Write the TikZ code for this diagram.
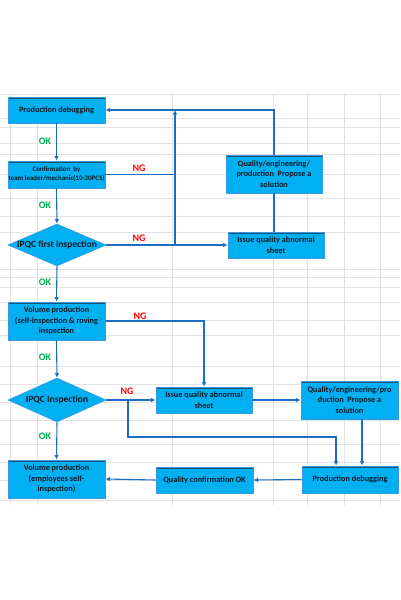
\documentclass[tikz,border=0pt]{standalone}
\usepackage{fontspec}
\setmainfont{Carlito}
\usetikzlibrary{arrows.meta,shapes.geometric,calc}
\definecolor{boxfill}{HTML}{00B0F0}
\definecolor{boxline}{HTML}{3A98E4}
\definecolor{boxtop}{HTML}{1A4F78}
\definecolor{conn}{HTML}{1C6DC2}
\definecolor{grid}{HTML}{E2E2E2}
\definecolor{okgreen}{HTML}{00B050}
\definecolor{ngred}{HTML}{FF0000}
\definecolor{txt}{HTML}{0B1A26}
\tikzset{
  procbox/.style={rectangle, fill=boxfill, draw=boxline, line width=0.8pt,
    minimum width=97pt, minimum height=26pt, inner sep=0pt, align=center,
    text=txt, font=\fontsize{8.2}{10.3}\selectfont\bfseries,
    path picture={\fill[boxtop] (path picture bounding box.north west) rectangle ([yshift=-2pt]path picture bounding box.north east);}},
  decbox/.style={diamond, fill=boxfill, draw=boxline, line width=0.6pt,
    minimum width=98pt, minimum height=42pt, inner sep=0pt},
  dectext/.style={text=txt, font=\fontsize{9.5}{11}\selectfont\bfseries, inner sep=0pt},
  flow/.style={draw=conn, line width=1.1pt},
  arr/.style={flow, -{Latex[length=4.5pt,width=4.5pt]}},
  oklab/.style={text=okgreen, font=\fontsize{10}{12}\selectfont\bfseries, fill=white, inner sep=1pt},
  nglab/.style={text=ngred, font=\fontsize{10}{12}\selectfont\bfseries, fill=white, inner sep=1pt},
  gridline/.style={draw=grid, line width=0.8pt}
}
\begin{document}
\begin{tikzpicture}[x=1pt,y=-1pt]
\fill[white] (0,0) rectangle (400,600);
\useasboundingbox (0,0) rectangle (400,600);
% spreadsheet grid
\foreach \gy in {94,118,127,143,154,174,198,216,232,269,277,287,302,320,335,366,384,402,420,444,462,480,500}
  \draw[gridline] (0,\gy) -- (400,\gy);
\foreach \gx in {10,37,172,273,307,344,380}
  \draw[gridline] (\gx,94) -- (\gx,505);

% nodes
\node[procbox] (pd1) at (56.5,110) {Production debugging};
\node[procbox, font=\fontsize{6.9}{9}\selectfont\bfseries, minimum height=27pt] (cf) at (56.5,174.5) {Confirmation~~by\\team leader/mechanic(10-20PCS)};
\node[decbox] (d1) at (57,245) {};
\node[dectext] (d1t) at (d1.center) {IPQC first inspection};
\node[procbox, minimum width=96pt, minimum height=38pt] (qe1) at (274,174) {Quality/engineering/\\production~~Propose a\\solution};
\node[procbox, minimum width=96pt] (is1) at (276,245) {Issue quality abnormal\\sheet};
\node[procbox, minimum height=38pt] (vp) at (56.5,321) {Volume production\\(self-inspection \& roving\\inspection};
\node[decbox, minimum height=44pt] (d2) at (57,400) {};
\node[dectext] (d2t) at (d2.center) {IPQC Inspection};
\node[procbox, minimum width=96pt] (is2) at (204,400) {Issue quality abnormal\\sheet};
\node[procbox, minimum height=38pt] (qe2) at (349.5,400) {Quality/engineering/pro\\duction~~Propose a\\solution};
\node[procbox, minimum width=96pt, minimum height=27pt] (pd2) at (350,479.5) {Production debugging};
\node[procbox] (qc) at (204.5,480) {Quality confirmation OK};
\node[procbox, minimum height=38pt] (vp2) at (56.5,479) {Volume production\\(employees self-\\inspection)};

% junction coordinates
\coordinate (j1) at (175,110);
\coordinate (j2) at (175,245);
\coordinate (j3) at (128,400);
\coordinate (j4) at (336,437);
\coordinate (c362) at (362,0);

% connectors
\draw[arr] (pd1.south) -- (cf.north);
\draw[arr] (cf.south) -- (d1.north);
\draw[flow] (cf.east) -- (cf.east -| j1);
\draw[arr] (j2) -- (j1);
\draw[arr] (qe1.north) |- (pd1.east);
\draw[flow] (qe1.south) -- (qe1.south |- is1.north);
\draw[arr] (d1.east) -- (is1.west);
\draw[arr] (d1.south) -- (vp.north);
\draw[arr] (vp.east) -| (is2.north);
\draw[arr] (vp.south) -- (d2.north);
\draw[arr] (d2.east) -- (is2.west);
\draw[arr] (j3) |- (j4) -- (j4 |- pd2.north);
\draw[arr] (is2.east) -- (qe2.west);
\draw[arr] (qe2.south -| c362) -- (pd2.north -| c362);
\draw[arr] (pd2.west) -- (qc.east);
\draw[arr] (qc.west) -- (vp2.east);
\draw[arr] (d2.south) -- (vp2.north);

% labels
\node[oklab] (ok1) at (45,141) {OK};
\node[oklab] (ok2) at (45,205) {OK};
\node[oklab] (ok3) at (45,282) {OK};
\node[oklab] (ok4) at (45,357) {OK};
\node[oklab] (ok5) at (45,436) {OK};
\node[nglab] (ng1) at (139,168) {NG};
\node[nglab] (ng2) at (139,238) {NG};
\node[nglab] (ng3) at (140,316) {NG};
\node[nglab] (ng4) at (127,391) {NG};
\end{tikzpicture}
\end{document}
